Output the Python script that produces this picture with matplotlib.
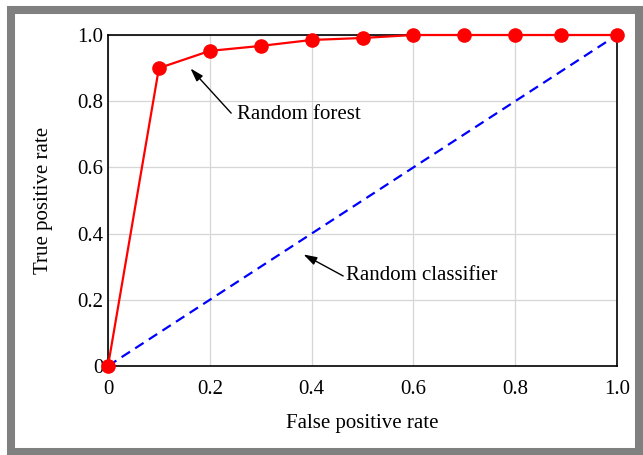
import matplotlib.pyplot as plt
from matplotlib.patches import Rectangle

# ROC curve points
fpr_rf = [0, 0.1, 0.2, 0.3, 0.4, 0.5, 0.6, 0.7, 0.8, 0.89, 1.0]
tpr_rf = [0, 0.90, 0.952, 0.967, 0.985, 0.991, 1.0, 1.0, 1.0, 1.0, 1.0]
fpr_rand = [0, 1]
tpr_rand = [0, 1]
ticks = [0, 0.2, 0.4, 0.6, 0.8, 1.0]
tick_labels = ["0", "0.2", "0.4", "0.6", "0.8", "1.0"]

plt.rcParams["font.family"] = ["Liberation Serif", "DejaVu Serif"]

fig = plt.figure(figsize=(6.43, 4.55), dpi=100)
ax = fig.add_axes([108 / 643, 1 - 366 / 455, 509 / 643, 331 / 455])

ax.plot(fpr_rand, tpr_rand, color="blue", lw=1.6, ls=(0, (4.5, 2.8)), zorder=3)
ax.plot(fpr_rf, tpr_rf, color="red", lw=1.6, marker="o", ms=9.5,
        clip_on=False, zorder=4)

ax.set_xlim(0, 1)
ax.set_ylim(0, 1)
ax.set_xticks(ticks)
ax.set_xticklabels(tick_labels)
ax.set_yticks(ticks)
ax.set_yticklabels(tick_labels)
ax.tick_params(length=0, labelsize=15)
ax.tick_params(axis="x", pad=10)
ax.tick_params(axis="y", pad=3.5)
ax.grid(color="#d6d6d6", lw=0.9)
ax.set_axisbelow(True)
for s in ax.spines.values():
    s.set_linewidth(1.2)

ax.set_xlabel("False positive rate", fontsize=15, labelpad=11)
ax.set_ylabel("True positive rate", fontsize=15, labelpad=17)

# labels and their arrows
arrow = dict(arrowstyle="-|>,head_length=0.8,head_width=0.25", color="black",
             lw=1, shrinkA=0, shrinkB=0, mutation_scale=10)
ax.annotate("", xy=(0.162, 0.899), xytext=(0.242, 0.764), arrowprops=arrow)
ax.text(0.253, 0.761, "Random forest", fontsize=15, va="center")
ax.annotate("", xy=(0.384, 0.337), xytext=(0.462, 0.272), arrowprops=arrow)
ax.text(0.468, 0.272, "Random classifier", fontsize=15, va="center")

# gray frame around the picture
fig.patches.append(Rectangle((11 / 643, 3.5 / 455), 628 / 643, 441.5 / 455,
                             transform=fig.transFigure, fill=False,
                             edgecolor="#808080", lw=5.8, zorder=0))

fig.savefig("out.png", dpi=100)
